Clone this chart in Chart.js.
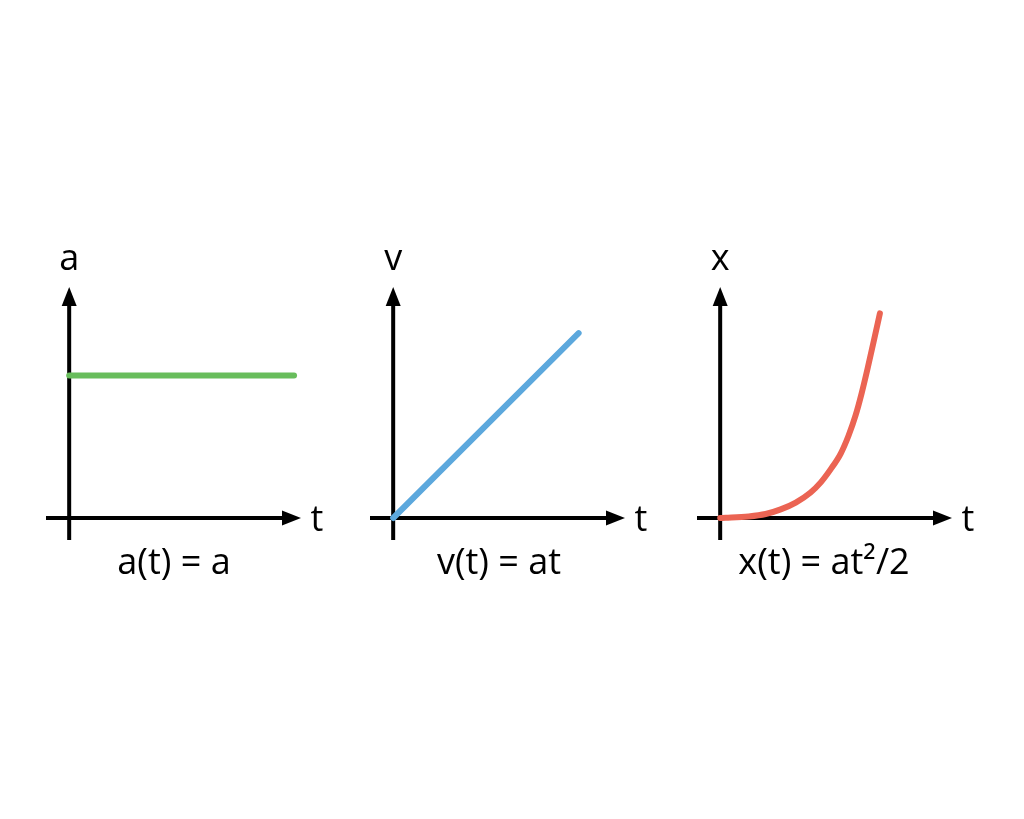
<!DOCTYPE html>
<html>
<head>
<meta charset="utf-8">
<script src="https://cdn.jsdelivr.net/npm/chart.js@4"></script>
<style>
  html, body { margin: 0; padding: 0; background: #fff; }
  body { width: 1024px; height: 819px; position: relative; overflow: hidden; }
  .box { position: absolute; top: 230px; width: 330px; height: 370px; }
</style>
</head>
<body>
<div class="box" style="left:20px"><canvas id="chartA"></canvas></div>
<div class="box" style="left:344px"><canvas id="chartV"></canvas></div>
<div class="box" style="left:671px"><canvas id="chartX"></canvas></div>
<script>
// values (time, value) in axis units
var timeA = [0, 0.97];
var accel = [0.648, 0.648];

var timeV = [0, 0.80];
var velocity = [0, 0.84];

var timeX = [0, 0.024, 0.123, 0.196, 0.261, 0.326, 0.390, 0.434, 0.477, 0.520, 0.554, 0.584, 0.610, 0.636, 0.662, 0.689];
var position = [0, 0.001, 0.007, 0.018, 0.039, 0.070, 0.116, 0.162, 0.222, 0.293, 0.375, 0.466, 0.566, 0.680, 0.802, 0.930];

var FONT = '36px "Open Sans", sans-serif';

function pairs(xs, ys) {
  var out = [];
  for (var i = 0; i < xs.length; i++) out.push({x: xs[i], y: ys[i]});
  return out;
}

// axes with arrow heads and labels
var arrowAxes = {
  id: 'arrowAxes',
  beforeDatasetsDraw: function(chart) {
    var ctx = chart.ctx, a = chart.chartArea;
    var x0 = chart.scales.x.getPixelForValue(0);
    var y0 = chart.scales.y.getPixelForValue(0);
    ctx.save();
    ctx.strokeStyle = '#000';
    ctx.fillStyle = '#000';
    ctx.lineWidth = 4;
    ctx.beginPath();
    ctx.moveTo(a.left, y0); ctx.lineTo(a.right - 12, y0);
    ctx.moveTo(x0, a.bottom); ctx.lineTo(x0, a.top + 12);
    ctx.stroke();
    ctx.beginPath();
    ctx.moveTo(a.right, y0); ctx.lineTo(a.right - 19, y0 - 7.5); ctx.lineTo(a.right - 19, y0 + 7.5);
    ctx.closePath(); ctx.fill();
    ctx.beginPath();
    ctx.moveTo(x0, a.top); ctx.lineTo(x0 - 7.5, a.top + 19); ctx.lineTo(x0 + 7.5, a.top + 19);
    ctx.closePath(); ctx.fill();
    ctx.restore();
  },
  afterDraw: function(chart, args, opts) {
    var ctx = chart.ctx, a = chart.chartArea;
    var x0 = chart.scales.x.getPixelForValue(0);
    var y0 = chart.scales.y.getPixelForValue(0);
    ctx.save();
    ctx.fillStyle = '#000';
    ctx.font = FONT;
    ctx.textAlign = 'center';
    ctx.textBaseline = 'alphabetic';
    ctx.fillText(opts.yName, x0, a.top - 17);
    ctx.fillText('t', a.right + 16, y0 + 13);
    ctx.fillText(opts.formula, opts.formulaX, a.bottom + 34);
    ctx.restore();
  }
};

function makeChart(id, xs, ys, color, yName, formula, formulaX, curved) {
  return new Chart(document.getElementById(id), {
    type: 'line',
    data: {
      datasets: [{
        data: pairs(xs, ys),
        borderColor: color,
        borderWidth: 6,
        borderCapStyle: 'round',
        pointRadius: 0,
        fill: false,
        cubicInterpolationMode: curved ? 'monotone' : 'default'
      }]
    },
    options: {
      responsive: true,
      maintainAspectRatio: false,
      animation: false,
      events: [],
      layout: { padding: { left: 26, right: 49, top: 57, bottom: 60 } },
      scales: {
        x: { type: 'linear', min: -0.1, max: 1.0, display: false },
        y: { type: 'linear', min: -0.1, max: 1.05, display: false }
      },
      plugins: {
        legend: { display: false },
        tooltip: { enabled: false },
        arrowAxes: { yName: yName, formula: formula, formulaX: formulaX }
      }
    },
    plugins: [arrowAxes]
  });
}

makeChart('chartA', timeA, accel, '#68bd5c', 'a', 'a(t) = a', 154, false);
makeChart('chartV', timeV, velocity, '#5ca8dd', 'v', 'v(t) = at', 155, false);
makeChart('chartX', timeX, position, '#eb6453', 'x', 'x(t) = at\u00b2/2', 153, true);
</script>
</body>
</html>
